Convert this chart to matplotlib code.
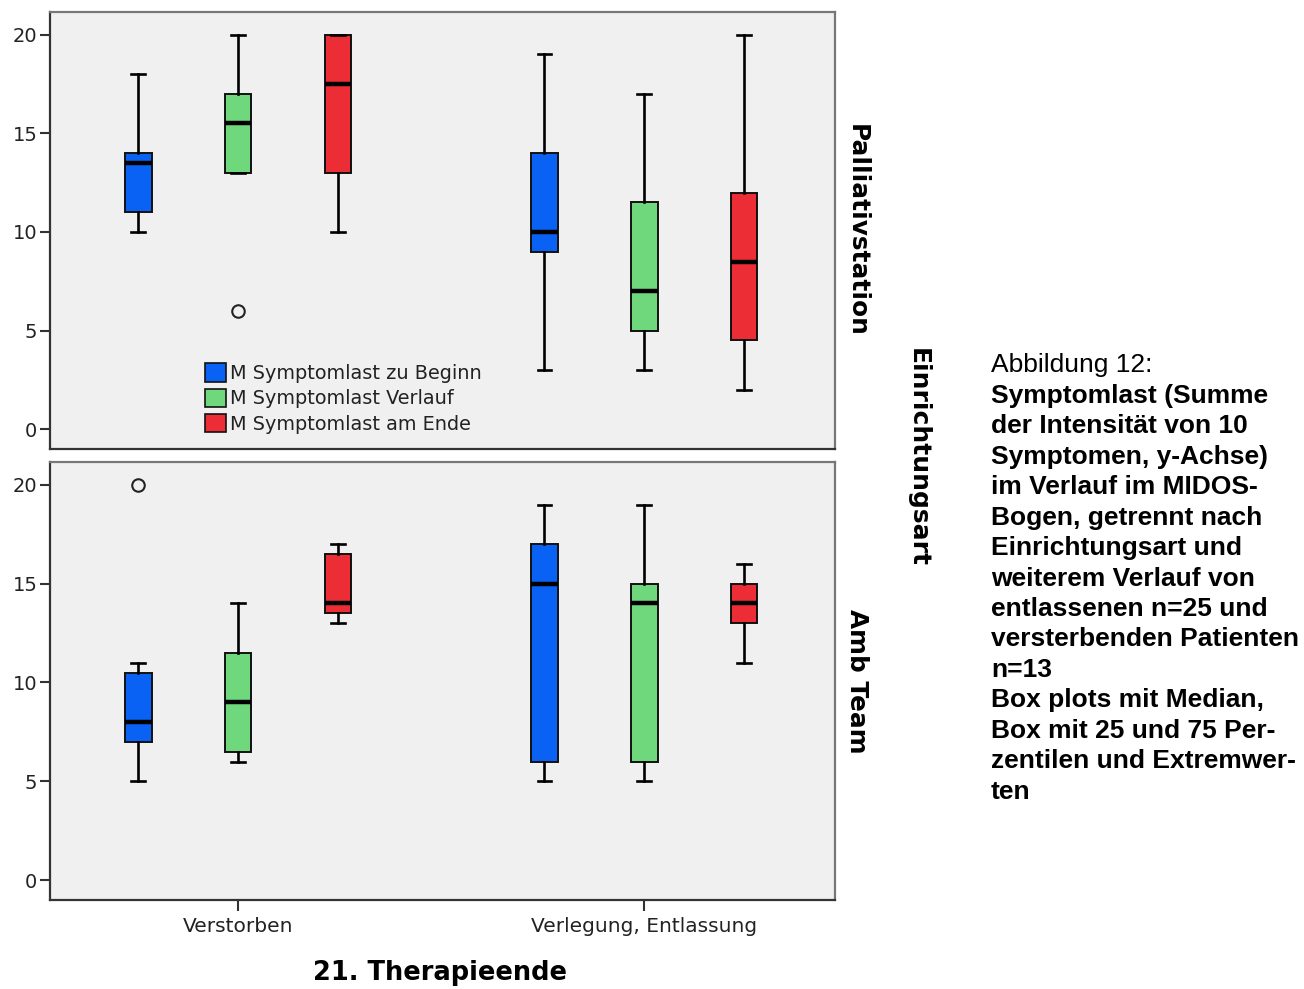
import numpy as np
import matplotlib
matplotlib.use("Agg")
import matplotlib.pyplot as plt
from matplotlib.patches import Patch

# Therapieende groups on the x axis and the three Symptomlast measurements
groups = ['Verstorben', 'Verlegung, Entlassung']
series = ['M Symptomlast zu Beginn', 'M Symptomlast Verlauf', 'M Symptomlast am Ende']
colors = ['#0a62f5', '#6fd87c', '#ec2d35']

# Palliativstation: rows = groups, cols = series
pal_whislo = [[10, 13, 10], [3, 3, 2]]
pal_q1 = [[11, 13, 13], [9, 5, 4.5]]
pal_med = [[13.5, 15.5, 17.5], [10, 7, 8.5]]
pal_q3 = [[14, 17, 20], [14, 11.5, 12]]
pal_whishi = [[18, 20, 20], [19, 17, 20]]
pal_fliers = [[[], [6], []], [[], [], []]]

# Amb Team
amb_whislo = [[5, 6, 13], [5, 5, 11]]
amb_q1 = [[7, 6.5, 13.5], [6, 6, 13]]
amb_med = [[8, 9, 14], [15, 14, 14]]
amb_q3 = [[10.5, 11.5, 16.5], [17, 15, 15]]
amb_whishi = [[11, 14, 17], [19, 19, 16]]
amb_fliers = [[[20], [], []], [[], [], []]]

panels = [
    ('Palliativstation', pal_whislo, pal_q1, pal_med, pal_q3, pal_whishi, pal_fliers),
    ('Amb Team', amb_whislo, amb_q1, amb_med, amb_q3, amb_whishi, amb_fliers),
]

caption_head = 'Abbildung 12:'
caption_lines = [
    'Symptomlast (Summe',
    'der Intensität von 10',
    'Symptomen, y-Achse)',
    'im Verlauf im MIDOS-',
    'Bogen, getrennt nach',
    'Einrichtungsart und',
    'weiterem Verlauf von',
    'entlassenen n=25 und',
    'versterbenden Patienten',
    'n=13',
    'Box plots mit Median,',
    'Box mit 25 und 75 Per-',
    'zentilen und Extremwer-',
    'ten',
]

W, H = 1304, 989
fig = plt.figure(figsize=(W / 100, H / 100), dpi=100)
fig.patch.set_facecolor('white')

offset = 0.246
box_w = 0.066
axes_px = [(50, 12, 835, 449), (50, 462, 835, 900)]

for i, (name, wlo, q1, med, q3, whi, fl) in enumerate(panels):
    x0, y0, x1, y1 = axes_px[i]
    ax = fig.add_axes([x0 / W, 1 - y1 / H, (x1 - x0) / W, (y1 - y0) / H])
    ax.set_facecolor('#f0f0f0')

    for g in range(len(groups)):
        for s in range(len(series)):
            stats = [dict(whislo=wlo[g][s], q1=q1[g][s], med=med[g][s],
                          q3=q3[g][s], whishi=whi[g][s], fliers=fl[g][s])]
            ax.bxp(stats, positions=[g + (s - 1) * offset], widths=box_w,
                   capwidths=box_w * 0.5, patch_artist=True, manage_ticks=False,
                   boxprops=dict(facecolor=colors[s], edgecolor='#111111', linewidth=1.4),
                   medianprops=dict(color='black', linewidth=3.2, solid_capstyle='butt'),
                   whiskerprops=dict(color='black', linewidth=1.9),
                   capprops=dict(color='black', linewidth=1.9),
                   flierprops=dict(marker='o', markersize=9, markerfacecolor='none',
                                   markeredgecolor='#222222', markeredgewidth=1.5))

    ax.set_xlim(-0.463, 1.470)
    ax.set_ylim(-1.0, 21.15)
    ax.set_yticks([0, 5, 10, 15, 20])
    ax.tick_params(axis='y', direction='out', length=7, width=1.5, color='#333333',
                   labelsize=14, labelcolor='#222222', pad=2)
    if i == 0:
        ax.tick_params(axis='x', bottom=False, labelbottom=False)
    else:
        ax.set_xticks([0, 1])
        ax.set_xticklabels(groups)
        ax.tick_params(axis='x', direction='out', length=8, width=1.5, color='#333333',
                       labelsize=14.5, labelcolor='#222222', pad=4)
    for side in ['left', 'bottom']:
        ax.spines[side].set_color('#333333')
        ax.spines[side].set_linewidth(1.6)
    for side in ['top', 'right']:
        ax.spines[side].set_color('#777777')
        ax.spines[side].set_linewidth(1.6)

    # facet label on the right
    fig.text(857 / W, 1 - ((y0 + y1) / 2) / H, name, rotation=270, fontsize=17.8,
             fontweight='bold', ha='center', va='center')

    if i == 0:
        handles = [Patch(facecolor=c, edgecolor='#111111', linewidth=1.2) for c in colors]
        ax.legend(handles, series, loc='lower left', bbox_to_anchor=(0.197, 0.035),
                  frameon=False, fontsize=13.9, handlelength=1.1, handleheight=1.1,
                  handletextpad=0.2, labelspacing=0.28, borderpad=0, borderaxespad=0,
                  labelcolor='#222222')

fig.text(918 / W, 1 - 457 / H, 'Einrichtungsart', rotation=270, fontsize=18,
         fontweight='bold', ha='center', va='center')
fig.text(440 / W, 1 - 973 / H, '21. Therapieende', fontsize=18.5, fontweight='bold',
         ha='center', va='center')

# figure caption on the right
cap_x = 991 / W
line_step = 30.5
fig.text(cap_x, 1 - 365 / H, caption_head, fontsize=19, family='Liberation Sans',
         ha='left', va='center')
for k, line in enumerate(caption_lines):
    fig.text(cap_x, 1 - (365 + (k + 1) * line_step) / H, line, fontsize=19,
             family='Liberation Sans', fontweight='bold', ha='left', va='center')

fig.savefig('out.png', dpi=100)
